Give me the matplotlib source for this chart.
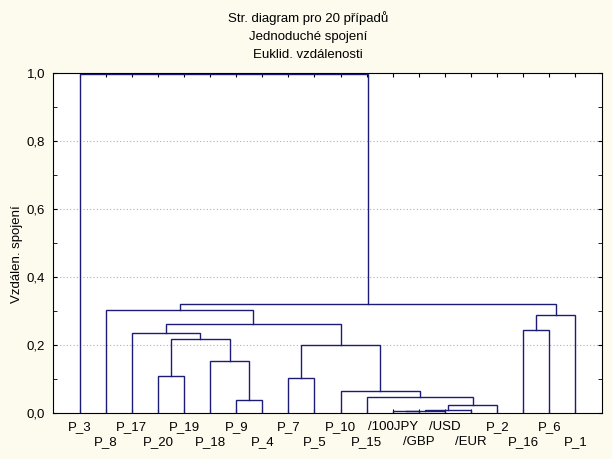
import matplotlib
matplotlib.use("Agg")
import matplotlib.pyplot as plt
from matplotlib.ticker import MultipleLocator, FuncFormatter

# leaves in the order they appear on the x axis
leaves = ["P_3", "P_8", "P_17", "P_20", "P_19", "P_18", "P_9", "P_4", "P_7", "P_5",
          "P_10", "P_15", "/100JPY", "/GBP", "/USD", "/EUR", "P_2", "P_16", "P_6", "P_1"]

# merges: (left cluster, right cluster, linkage distance); new clusters get ids 20, 21, ...
merge_left = [12, 20, 21, 22, 6, 11, 10, 8, 3, 5, 27, 28, 2, 17, 32, 33, 1, 36, 0]
merge_right = [13, 14, 15, 16, 7, 23, 25, 9, 4, 24, 26, 29, 31, 18, 30, 19, 34, 35, 37]
merge_dist = [0.005, 0.007, 0.009, 0.0225, 0.038, 0.048, 0.064, 0.102, 0.109, 0.152,
              0.201, 0.216, 0.234, 0.245, 0.261, 0.289, 0.302, 0.319, 0.997]

font = ["Liberation Sans Narrow", "Liberation Sans", "DejaVu Sans"]
plt.rcParams["font.family"] = font
bg = "#fdfbee"
line_col = "#1c1c78"

fig = plt.figure(figsize=(6.12, 4.59), dpi=100, facecolor=bg)
ax = fig.add_axes([0.0874, 0.1002, 0.8956, 0.7418])
ax.set_facecolor("white")

# x position and height of every cluster
xpos = {i: i + 1 for i in range(len(leaves))}
ypos = {i: 0.0 for i in range(len(leaves))}
for k, (a, b, d) in enumerate(zip(merge_left, merge_right, merge_dist)):
    cid = len(leaves) + k
    ax.plot([xpos[a], xpos[a], xpos[b], xpos[b]], [ypos[a], d, d, ypos[b]],
            color=line_col, lw=1.0, solid_joinstyle="miter")
    xpos[cid] = (xpos[a] + xpos[b]) / 2
    ypos[cid] = d

ax.set_xlim(0, len(leaves) + 1)
ax.set_ylim(0, 1.0)

ax.yaxis.set_major_locator(MultipleLocator(0.2))
ax.yaxis.set_minor_locator(MultipleLocator(0.1))
ax.yaxis.set_major_formatter(FuncFormatter(lambda v, p: f"{v:.1f}".replace(".", ",")))
ax.grid(axis="y", which="major", color="#b0b0b0", linestyle=(0, (1, 2)), lw=0.8)
ax.set_axisbelow(True)

# leaf labels in two staggered rows
ax.set_xticks(range(1, len(leaves) + 1))
ax.set_xticklabels([])
for i, lab in enumerate(leaves):
    off = -8 if i % 2 == 0 else -23
    ax.annotate(lab, xy=(i + 1, 0), xycoords=("data", "axes fraction"),
                xytext=(0, off), textcoords="offset pixels",
                ha="center", va="top", fontsize=9.5)
ax.tick_params(axis="x", which="both", direction="in", top=True, length=3)
ax.tick_params(axis="y", which="both", direction="in", right=True, length=3, labelsize=9.5, pad=6)

for s in ax.spines.values():
    s.set_color("black")
    s.set_linewidth(0.8)

fig.text(0.503, 1 - 18 / 459, "Str. diagram pro 20 případů", ha="center", va="center", fontsize=9.5)
fig.text(0.503, 1 - 37 / 459, "Jednoduché spojení", ha="center", va="center", fontsize=9.5)
fig.text(0.503, 1 - 55 / 459, "Euklid. vzdálenosti", ha="center", va="center", fontsize=9.5)
fig.text(17 / 612, 1 - 254 / 459, "Vzdálen. spojení", rotation=90, ha="center", va="center", fontsize=9.5)

fig.savefig("out.png", dpi=100, facecolor=bg)
